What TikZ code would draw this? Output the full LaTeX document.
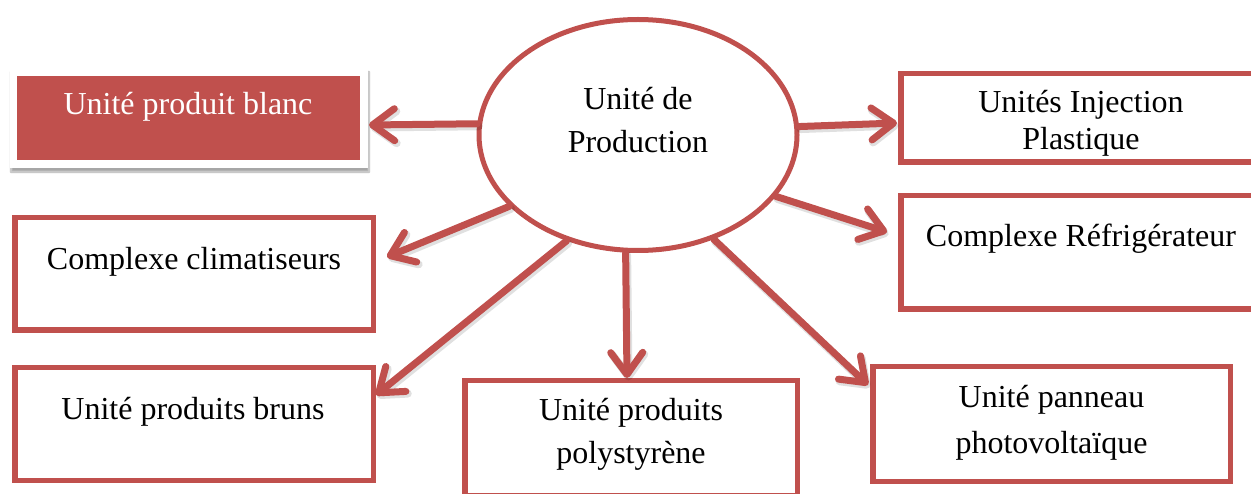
\documentclass[tikz,border=0pt]{standalone}
\usepackage{fontspec}
\setmainfont{Liberation Serif}
\usetikzlibrary{arrows.meta,shapes.geometric,shadows.blur}
\definecolor{accent}{HTML}{C0504D}
\begin{document}
\begin{tikzpicture}[x=1pt,y=-1pt,
  box/.style={draw=accent, line width=5.5pt, fill=white, inner sep=0pt, rectangle},
  lbl/.style={font=\fontsize{32}{37}\selectfont, align=center, inner sep=0pt, anchor=base},
  link/.style={draw=accent, line width=7pt, line cap=round,
    -{Straight Barb[length=22pt,width=32pt,round]}},
  linkshade/.style={draw=black, opacity=0.12, line width=8pt, line cap=round,
    -{Straight Barb[length=22pt,width=32pt,round]}, transform canvas={shift={(1.5pt,-2.5pt)}}}
]
\useasboundingbox (0,0) rectangle (1251,494);

% central unit
\node[draw=accent, line width=5pt, fill=white, ellipse, inner sep=0pt,
      minimum width=318pt, minimum height=231pt] (prod) at (638,135) {};
\node[lbl] (prodtxt) at (638,153) {Unité de\\[6pt]Production};

% highlighted unit
\node[fill=white, inner sep=0pt, minimum width=358pt, minimum height=100pt,
      blur shadow={shadow xshift=1pt, shadow yshift=-4pt, shadow blur steps=8, shadow opacity=35}]
      (blanc) at (189,118) {};
\node[fill=accent, inner sep=0pt, minimum width=343pt, minimum height=84pt] (blancfill) at (188.5,118) {};
\node[lbl, text=white] (blanctxt) at (188,115) {Unité produit blanc};

% other units
\node[box, minimum width=360.5pt, minimum height=88.5pt]  (inj)    at (1081,118) {};
\node[box, minimum width=360.5pt, minimum height=113.5pt] (refrig) at (1081,252.5) {};
\node[box, minimum width=358.5pt, minimum height=112.5pt] (clim)   at (194,274) {};
\node[box, minimum width=358.5pt, minimum height=112.5pt] (bruns)  at (194,424) {};
\node[box, minimum width=332.5pt, minimum height=114.5pt] (poly)   at (631,438) {};
\node[box, minimum width=357.5pt, minimum height=114.5pt] (photo)  at (1051.5,424) {};

\node[lbl] (injtxt)    at (1081,150) {Unités Injection\\Plastique};
\node[lbl] (refrigtxt) at (1081,247) {Complexe Réfrigérateur};
\node[lbl] (climtxt)   at (194,270) {Complexe climatiseurs};
\node[lbl] (brunstxt)  at (193,420) {Unité produits bruns};
\node[lbl] (polytxt)   at (631,463) {Unité produits\\[6pt]polystyrène};
\node[lbl] (phototxt)  at (1051.5,453) {Unité panneau\\[9pt]photovoltaïque};

% arrow ends
\coordinate (tblanc)  at (369,125);
\coordinate (tinj)    at (897,123);
\coordinate (trefrig) at (887,232);
\coordinate (tclim)   at (387,257);
\coordinate (tbruns)  at (376,395);
\coordinate (tpoly)   at (627,378);
\coordinate (tphoto)  at (868,385);

% links
\foreach \a/\t in {176.8/tblanc, 3.5/tinj, 336/trefrig, 209/tclim,
                   236.2/tbruns, 264.8/tpoly, 306/tphoto}{
  \draw[linkshade] (prod.\a) -- (\t);
  \draw[link] (prod.\a) -- (\t);
}
\end{tikzpicture}
\end{document}
